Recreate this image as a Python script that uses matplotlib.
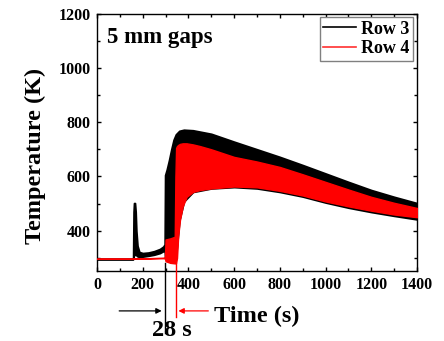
import matplotlib
matplotlib.use("Agg")
import matplotlib.pyplot as plt
from matplotlib.ticker import MultipleLocator
from matplotlib.lines import Line2D
import matplotlib.transforms as mtransforms

plt.rcParams['font.family'] = ['Liberation Serif', 'DejaVu Serif']
plt.rcParams['font.weight'] = 'bold'

# Row 3: envelope of the oscillating temperature trace (time in s, temperature in K)
t3 = [0, 158, 160, 162, 166, 169, 172, 177, 185, 200, 225, 250, 275, 290, 296,
      298, 305, 315, 325, 335, 345, 360, 380, 420, 500, 600, 700, 800, 900,
      1000, 1100, 1200, 1300, 1400]
hi3 = [296, 296, 470, 502, 502, 470, 400, 345, 322, 318, 320, 325, 333, 342, 350,
       605, 625, 660, 700, 735, 755, 768, 772, 770, 757, 728, 700, 672, 642,
       611, 580, 550, 525, 502]
lo3 = [296, 296, 305, 310, 312, 312, 310, 306, 304, 305, 308, 312, 318, 325, 330,
       300, 300, 300, 300, 300, 300, 438, 508, 543, 556, 561, 556, 543, 526,
       504, 485, 469, 455, 442]

# Row 4: envelope of the oscillating temperature trace
t4 = [0, 150, 290, 297, 300, 320, 340, 343, 346, 350, 355, 363, 375, 392,
      420, 450, 500, 600, 700, 800, 900, 1000, 1100, 1200, 1300, 1400]
hi4 = [297, 297, 301, 303, 368, 372, 378, 600, 705, 712, 716, 720, 722, 722,
       718, 712, 700, 672, 655, 635, 608, 580, 552, 525, 503, 484]
lo4 = [297, 297, 299, 298, 288, 282, 280, 280, 282, 300, 380, 440, 490, 525,
       543, 550, 556, 563, 560, 547, 530, 508, 490, 474, 460, 450]

# Onset times marked under the axis
onset3 = 297
onset4 = 344
delay_label = "28 s"

x_ticks = [0, 200, 400, 600, 800, 1000, 1200, 1400]
y_ticks = [400, 600, 800, 1000, 1200]

fig = plt.figure(figsize=(4.44, 3.41), dpi=100)
ax = fig.add_axes([0.2185, 0.2053, 0.7207, 0.7551])

ax.fill_between(t3, lo3, hi3, facecolor='black', edgecolor='black',
                linewidth=1.3, zorder=2)
ax.fill_between(t4, lo4, hi4, facecolor='#ff0000', edgecolor='#ff0000',
                linewidth=1.0, zorder=3)

ax.set_xlim(0, 1400)
ax.set_ylim(252, 1200)
ax.set_xticks(x_ticks)
ax.set_yticks(y_ticks)
ax.xaxis.set_minor_locator(MultipleLocator(100))
ax.yaxis.set_minor_locator(MultipleLocator(100))
ax.tick_params(which='both', direction='in', top=True, right=True,
               width=1.0, labelsize=11.5)
ax.tick_params(which='major', length=3.2, pad=4.5)
ax.tick_params(which='minor', length=2.2)
for lbl in ax.get_xticklabels() + ax.get_yticklabels():
    lbl.set_fontweight('bold')
for sp in ax.spines.values():
    sp.set_linewidth(1.0)

ax.set_ylabel('Temperature (K)', fontsize=17.5, fontweight='bold')
ax.yaxis.set_label_coords(-0.16, 0.445)
ax.set_xlabel('Time (s)', fontsize=17.5, fontweight='bold')
ax.xaxis.label.set_verticalalignment('baseline')
ax.xaxis.set_label_coords(0.5, -0.20)

ax.text(0.031, 0.887, '5 mm gaps', transform=ax.transAxes, fontsize=16.5,
        fontweight='bold', ha='left', va='baseline')

handles = [Line2D([], [], color='black', lw=1.2),
           Line2D([], [], color='#ff3030', lw=1.2)]
ax.legend(handles, ['Row 3', 'Row 4'], loc='upper right',
          prop={'weight': 'bold', 'size': 13}, frameon=True, fancybox=False,
          edgecolor='#808080', framealpha=1, borderaxespad=0.2,
          borderpad=0.2, handlelength=1.8, handletextpad=0.3,
          labelspacing=0.15)

# Onset markers below the axis
trans = mtransforms.blended_transform_factory(ax.transData, ax.transAxes)
ax.plot([onset3, onset3], [0.03, -0.24], color='black', lw=1.0,
        transform=trans, clip_on=False, zorder=4)
ax.plot([onset4, onset4], [0.03, -0.18], color='#ff0000', lw=1.0,
        transform=trans, clip_on=False, zorder=4)
ax.annotate('', xy=(onset3 - 14, -0.155), xytext=(97, -0.155),
            xycoords=trans, textcoords=trans,
            arrowprops=dict(arrowstyle='-|>', color='black', lw=0.9,
                            mutation_scale=8, shrinkA=0, shrinkB=0))
ax.annotate('', xy=(onset4 + 12, -0.155), xytext=(487, -0.155),
            xycoords=trans, textcoords=trans,
            arrowprops=dict(arrowstyle='-|>', color='#ff0000', lw=0.9,
                            mutation_scale=8, shrinkA=0, shrinkB=0))
ax.text(326, -0.252, delay_label, transform=trans, fontsize=17.5,
        fontweight='bold', ha='center', va='baseline')

fig.savefig('out.png', dpi=100)
